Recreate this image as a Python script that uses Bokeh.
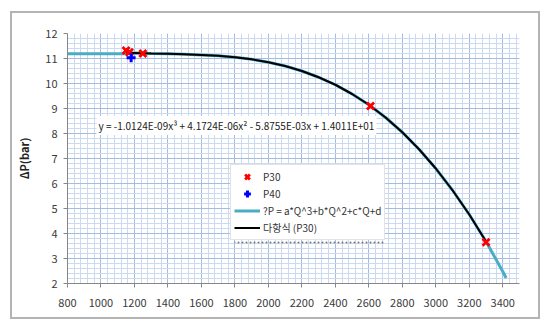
from bokeh.plotting import figure
from bokeh.models import Range1d, SingleIntervalTicker, Label, BoxAnnotation, Legend, LegendItem
from bokeh.embed import file_html
from bokeh.resources import INLINE

# fitted curve "?P = a*Q^3+b*Q^2+c*Q+d"
fit_q = [800, 1150, 1200, 1300, 1400, 1500, 1600, 1700, 1800, 1900, 2000, 2100, 2200,
         2300, 2400, 2500, 2600, 2700, 2800, 2900, 3000, 3100, 3200, 3300, 3400, 3420]
fit_dp = [11.19, 11.19, 11.22, 11.20, 11.19, 11.17, 11.14, 11.11, 11.05, 10.97, 10.85, 10.70, 10.50,
          10.25, 9.95, 9.58, 9.15, 8.64, 8.05, 7.37, 6.60, 5.73, 4.76, 3.68, 2.48, 2.22]

# polynomial trendline of P30
trend_q = [1150, 1200, 1300, 1400, 1500, 1600, 1700, 1800, 1900, 2000, 2100, 2200,
           2300, 2400, 2500, 2600, 2700, 2800, 2900, 3000, 3100, 3200, 3300]
trend_dp = [11.23, 11.22, 11.20, 11.19, 11.17, 11.14, 11.11, 11.05, 10.97, 10.85, 10.70, 10.50,
            10.25, 9.95, 9.58, 9.15, 8.64, 8.05, 7.37, 6.60, 5.73, 4.76, 3.68]

p30_q = [1150, 1170, 1250, 2610, 3300]
p30_dp = [11.32, 11.25, 11.20, 9.10, 3.65]
p40_q = [1180]
p40_dp = [11.03]

equation = "y = -1.0124E-09x\u00b3 + 4.1724E-06x\u00b2 - 5.8755E-03x + 1.4011E+01"
x_title = "Q(l/min)"
y_title = "\u0394P(bar)"
legend_labels = ["P30", "P40", "?P = a*Q^3+b*Q^2+c*Q+d", "다항식 (P30)"]

FONT = "Noto Sans CJK KR"

p = figure(width=547, height=325, output_backend="svg", toolbar_location=None,
           x_range=Range1d(800, 3500), y_range=Range1d(2, 12),
           min_border_left=67, min_border_right=28, min_border_top=33, min_border_bottom=42)
p.outline_line_color = None
p.background_fill_color = "white"
p.border_fill_alpha = 0
# outer chart border drawn as inset shadows on the (transparent) plot element
p.styles = {"box-shadow": "inset 1.5px 2.5px 0 8.5px #ffffff, inset 1.5px 2.5px 0 10.5px #b4b4b4"}

p.xaxis.ticker = SingleIntervalTicker(interval=200, num_minor_ticks=5)
p.yaxis.ticker = SingleIntervalTicker(interval=1, num_minor_ticks=5)

for ax in (p.xaxis[0], p.yaxis[0]):
    ax.axis_line_color = "#868686"
    ax.major_tick_line_color = "#868686"
    ax.major_tick_in = 0
    ax.major_tick_out = 4
    ax.minor_tick_line_color = None
    ax.major_label_text_font = FONT
    ax.major_label_text_font_size = "11px"
    ax.major_label_text_color = "#3a3a3a"
    ax.axis_label_text_font = FONT
    ax.axis_label_text_font_style = "bold"
    ax.axis_label_text_font_size = "11px"
    ax.axis_label_text_color = "#222222"

p.xaxis.major_label_standoff = 11
p.yaxis.major_label_standoff = 6
p.yaxis.axis_label = y_title
p.yaxis.axis_label_standoff = 10

for g in (p.xgrid[0], p.ygrid[0]):
    g.grid_line_color = "#a4bce4"
    g.minor_grid_line_color = "#cbd9f1"

r_fit = p.line(fit_q, fit_dp, line_color="#4bacc6", line_width=3)
r_trend = p.line(trend_q, trend_dp, line_color="#000000", line_width=2)
r_p30 = p.scatter(p30_q, p30_dp, marker="x", size=10, line_color="#ff0000", line_width=2.8)
r_p40 = p.scatter(p40_q, p40_dp, marker="cross", size=9, line_color="#0000ff", line_width=3)

# legend shadow
shadow = BoxAnnotation(left=167, right=317, top=113, bottom=39,
                       left_units="screen", right_units="screen", top_units="screen", bottom_units="screen",
                       fill_color=None, line_color=None, hatch_pattern=".", hatch_color="#777777",
                       hatch_scale=4, level="underlay")
p.add_layout(shadow)

legend = Legend(items=[LegendItem(label=legend_labels[0], renderers=[r_p30]),
                       LegendItem(label=legend_labels[1], renderers=[r_p40]),
                       LegendItem(label=legend_labels[2], renderers=[r_fit]),
                       LegendItem(label=legend_labels[3], renderers=[r_trend])],
                location=(163, 43), orientation="vertical",
                background_fill_color="white", background_fill_alpha=1.0,
                border_line_color="#c8c8c8", border_line_width=1,
                label_text_font=FONT, label_text_font_size="10px", label_text_color="#333333",
                glyph_width=26, glyph_height=17, label_height=17, label_standoff=3,
                padding=3, spacing=0, margin=0)
p.add_layout(legend)

eq = Label(x=29, y=158, x_units="screen", y_units="screen", text=equation,
           text_font=FONT, text_font_size="10px", text_color="#222222",
           text_baseline="middle", background_fill_color="white", padding=2)
p.add_layout(eq)

xt = Label(x=226, y=-35, x_units="screen", y_units="screen", text=x_title,
           text_font=FONT, text_font_size="11px", text_font_style="bold", text_color="#222222",
           text_align="center", text_baseline="middle")
p.add_layout(xt)

open("out.html", "w").write(file_html(p, INLINE))
